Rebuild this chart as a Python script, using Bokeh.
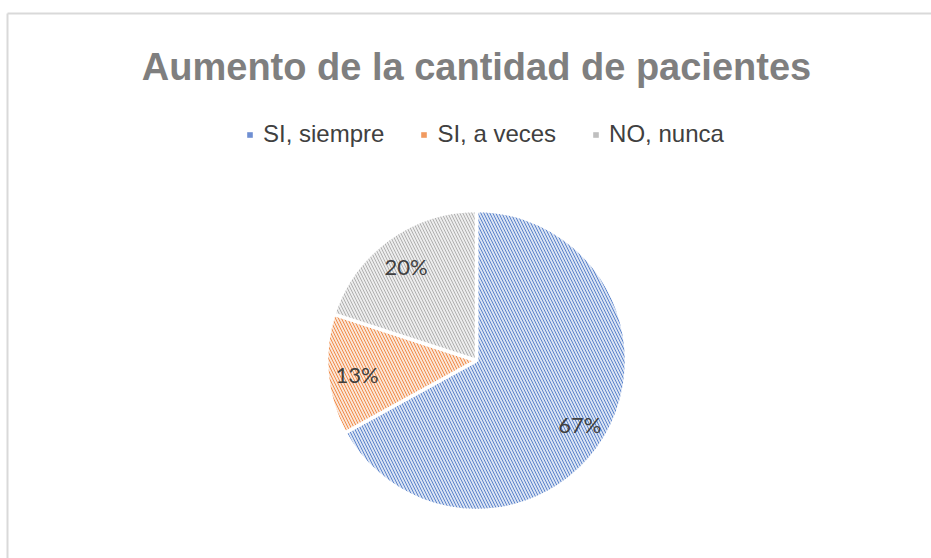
import numpy as np
from bokeh.plotting import figure
from bokeh.models import ColumnDataSource, Range1d, Legend, LegendItem, Label
from bokeh.core.properties import value
from bokeh.embed import file_html
from bokeh.resources import INLINE

# ---- data ----
categories = ["SI, siempre", "SI, a veces", "NO, nunca"]
percent = [67, 13, 20]
fill_colors = ["#dae3f3", "#fbe5d6", "#ededed"]
hatch_colors = ["#4472c4", "#ed7d31", "#a5a5a5"]
legend_colors = ["#6f8fd2", "#f19a60", "#bfbfbf"]
title_text = "Aumento de la cantidad de pacientes"

W, H = 931, 558
CX, CY, R = 476, 198, 150

vals = np.array(percent, dtype=float)
frac = vals / vals.sum()
cum = np.concatenate([[0], np.cumsum(frac)])
start = np.pi / 2 - 2 * np.pi * cum[:-1]
end = np.pi / 2 - 2 * np.pi * cum[1:]
mid = (start + end) / 2

src = ColumnDataSource(dict(
    cat=categories, start=start, end=end,
    fill=fill_colors, hatch=hatch_colors, leg=legend_colors,
    lx=CX + 0.8 * R * np.cos(mid), ly=CY + 0.8 * R * np.sin(mid) - 3,
    lab=[f"{v:.0f}%" for v in percent],
))

p = figure(width=W, height=H, x_range=Range1d(0, W), y_range=Range1d(0, H),
           output_backend="svg", toolbar_location=None, min_border=0)
p.axis.visible = False
p.grid.visible = False
p.outline_line_color = None
p.background_fill_color = "white"
p.border_fill_color = "white"

# chart-area border (top and left visible)
p.line(x=[7, 2000], y=[545, 545], line_color="#d9d9d9", line_width=2)
p.line(x=[7, 7], y=[-100, 545], line_color="#d9d9d9", line_width=2)

rend = p.wedge(x=CX, y=CY, radius=R, start_angle="start", end_angle="end",
               direction="clock", fill_color="fill", hatch_pattern="\\",
               hatch_color="hatch", hatch_scale=6, hatch_weight=1.0,
               hatch_alpha=0.85, line_color="white", line_width=3.5, source=src)

# zero-size rects only used for solid legend swatches
swatch = p.rect(x="lx", y="ly", width=0, height=0, fill_color="leg",
                line_color=None, source=src)

p.text(x="lx", y="ly", text="lab", source=src, text_align="center",
       text_baseline="middle", text_font=value("Lato"), text_font_size="22px",
       text_color="#404040")

p.add_layout(Label(x=CX, y=492, text=title_text, text_align="center",
                   text_baseline="alphabetic", text_font="Liberation Sans",
                   text_font_style="bold", text_font_size="38px",
                   text_color="#7f7f7f"))

items = [LegendItem(label=c, renderers=[swatch], index=i) for i, c in enumerate(categories)]
leg = Legend(items=items, orientation="horizontal", location=(246, 410),
             glyph_width=7, glyph_height=7, label_standoff=10, spacing=36,
             padding=0, margin=0, border_line_color=None, background_fill_alpha=0,
             label_text_font="Liberation Sans", label_text_font_size="24px",
             label_text_color="#404040")
p.add_layout(leg, "center")

open("out.html", "w").write(file_html(p, INLINE))
